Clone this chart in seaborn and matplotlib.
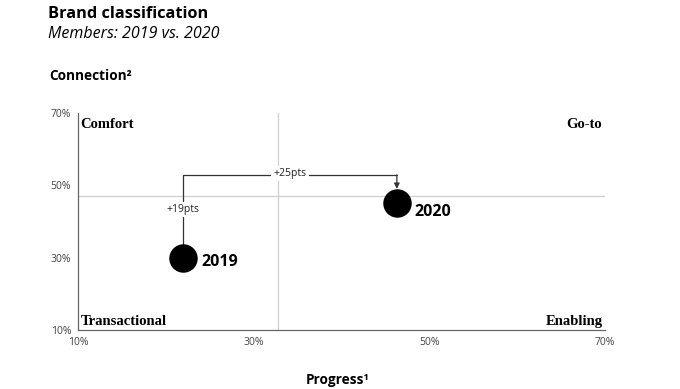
import pandas as pd
import seaborn as sns
import matplotlib.pyplot as plt

# data
years = ["2019", "2020"]
progress = [22.0, 46.3]
connection = [30.0, 45.2]
x_ticks = [10, 30, 50, 70]
y_ticks = [10, 30, 50, 70]
x_split = 32.8
y_split = 46.9
connector_y = 52.9
change_labels = ["+19pts", "+25pts"]
quadrants = ["Comfort", "Go-to", "Transactional", "Enabling"]

df = pd.DataFrame({"year": years, "progress": progress, "connection": connection})

sns.set_theme(style="white")
plt.rcParams["font.family"] = ["Open Sans", "DejaVu Sans"]
plt.rcParams["text.color"] = "black"

fig = plt.figure(figsize=(6.8, 3.89), dpi=100)
ax = fig.add_axes([0.1147, 0.1517, 0.775, 0.558])

# quadrant split lines
ax.axvline(x_split, color="#cfcfcf", lw=0.9, zorder=0)
ax.axhline(y_split, color="#cfcfcf", lw=0.9, zorder=0)

sns.scatterplot(data=df, x="progress", y="connection", s=420, color="black",
                edgecolor="black", linewidth=0, legend=False, ax=ax, zorder=3)

label_dy = [-3, -7]
for i, r in df.iterrows():
    ax.annotate(r["year"], (r["progress"], r["connection"]), xytext=(13, label_dy[i]),
                textcoords="offset points", fontsize=11.5, fontweight="bold",
                va="center", ha="left")

# connector 2019 -> 2020
x0, y0 = progress[0], connection[0]
x1, y1 = progress[1], connection[1]
ax.plot([x0, x0, x1], [y0, connector_y, connector_y], color="#333333", lw=0.9, zorder=2)
ax.annotate("", xy=(x1, y1 + 3.8), xytext=(x1, connector_y),
            arrowprops=dict(arrowstyle="-|>", color="#333333", lw=0.9,
                            mutation_scale=8, shrinkA=0, shrinkB=0))
bbox = dict(facecolor="white", edgecolor="none", pad=1.5)
ax.text(x0, y_split - 3.6, change_labels[0], ha="center", va="center",
        fontsize=7.5, color="#222222", bbox=bbox, zorder=4)
ax.text((x0 + x1) / 2, connector_y + 0.4, change_labels[1], ha="center", va="center",
        fontsize=7.5, color="#222222", bbox=bbox, zorder=4)

# quadrant names
qfont = dict(family=["Liberation Serif", "DejaVu Serif"], fontweight="bold", fontsize=10.5)
ax.text(0.005, 0.975, quadrants[0], transform=ax.transAxes, ha="left", va="top", **qfont)
ax.text(0.995, 0.975, quadrants[1], transform=ax.transAxes, ha="right", va="top", **qfont)
ax.text(0.005, 0.01, quadrants[2], transform=ax.transAxes, ha="left", va="bottom", **qfont)
ax.text(0.995, 0.01, quadrants[3], transform=ax.transAxes, ha="right", va="bottom", **qfont)

ax.set_xlim(10, 70)
ax.set_ylim(10, 70)
ax.set_xticks(x_ticks)
ax.set_yticks(y_ticks)
ax.set_xticklabels([f"{t}%" for t in x_ticks])
ax.set_yticklabels([f"{t}%" for t in y_ticks])
ax.tick_params(axis="both", labelsize=7.5, colors="#444444", length=0, pad=5)
ax.set_xlabel("")
ax.set_ylabel("")
sns.despine(ax=ax)
for s in ["left", "bottom"]:
    ax.spines[s].set_color("#666666")
    ax.spines[s].set_linewidth(0.9)

fig.text(0.0706, 0.965, "Brand classification", fontsize=11.8, fontweight="bold", va="center")
fig.text(0.0706, 0.913, "Members: 2019 vs. 2020", fontsize=11.5, style="italic", va="center")
fig.text(0.073, 0.805, "Connection²", fontsize=9.8, fontweight="bold", va="center")
fig.text(0.496, 0.023, "Progress¹", fontsize=9.8, fontweight="bold", va="center", ha="center")

fig.savefig("out.png", dpi=100)
